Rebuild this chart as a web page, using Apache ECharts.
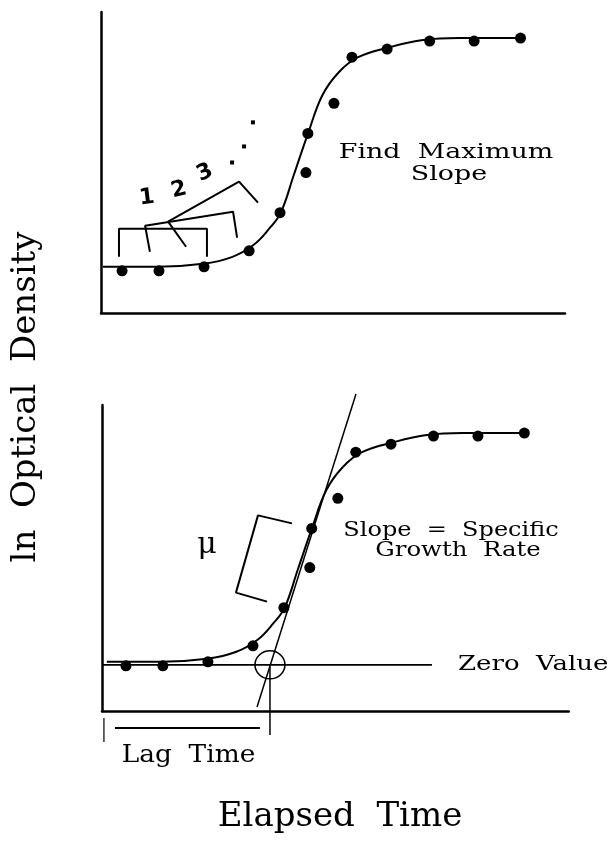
<!DOCTYPE html>
<html>
<head>
<meta charset="utf-8">
<script src="https://cdn.jsdelivr.net/npm/echarts@6/dist/echarts.min.js"></script>
<style>
  html, body { margin: 0; padding: 0; background: #fff; }
  #chart { width: 609px; height: 841px; }
</style>
</head>
<body>
<div id="chart"></div>
<script>
// Sampled measurements: elapsed time (h) and ln optical density
const sampleTime = [1.09, 3.0, 5.33, 7.66, 9.26, 10.6, 10.7, 12.05, 12.98, 14.8, 17.0, 19.3, 21.7];
const sampleLnOD = [0.42, 0.42, 0.46, 0.62, 1.0, 1.40, 1.79, 2.09, 2.55, 2.63, 2.71, 2.71, 2.74];

// Fitted growth curve
const curveTime = [0.10, 2.90, 5.28, 6.80, 7.90, 8.70, 9.30, 9.98, 10.71, 11.45, 12.30, 13.30, 14.95, 16.66, 18.50, 21.73];
const curveLnOD = [0.46, 0.46, 0.49, 0.56, 0.68, 0.84, 1.00, 1.38, 1.79, 2.17, 2.40, 2.55, 2.65, 2.72, 2.74, 2.74];

// Sliding windows used to search for the steepest slope (top panel)
const windowA = [[0.93, 0.56], [0.93, 0.84], [5.48, 0.84], [5.48, 0.56]];
const windowB = [[2.53, 0.61], [2.28, 0.87], [6.83, 1.01], [7.04, 0.75]];
const windowC = [[4.40, 0.66], [3.47, 0.91], [7.14, 1.31], [8.12, 1.10]];
const ellipsisDots = [[6.78, 1.50], [7.40, 1.66], [7.86, 1.90]];

// Lag-time construction (bottom panel)
const zeroLevel = 0.43;
const zeroLineStart = -0.10;
const zeroLineEnd = 16.92;
const tangentLine = [[7.87, 0.01], [12.99, 3.13]];
const lagTime = 8.54;
const lagDrop = -0.27;
const originTick = [[-0.05, -0.10], [-0.05, -0.34]];
const lagBar = [[0.52, -0.20], [8.02, -0.20]];
const muBracket = [[9.68, 1.84], [7.92, 1.92], [6.78, 1.15], [8.39, 1.06]];

const pairs = (xs, ys) => xs.map((x, i) => [x, ys[i]]);
const samples = pairs(sampleTime, sampleLnOD);
const curve = pairs(curveTime, curveLnOD);

const serifFont = '"DejaVu Serif", serif';
const ink = '#000';

function axis(min, max, pos) {
  return {
    type: 'value', min: min, max: max, gridIndex: pos,
    axisLine: { show: true, onZero: false, lineStyle: { color: ink, width: 2.5 } },
    axisTick: { show: false }, axisLabel: { show: false }, splitLine: { show: false }
  };
}

function path(data, g, width) {
  return {
    type: 'line', xAxisIndex: g, yAxisIndex: g, data: data, symbol: 'none',
    clip: false, silent: true,
    lineStyle: { color: ink, width: width || 2 }, z: 3
  };
}

function growthCurve(g) {
  return {
    type: 'line', xAxisIndex: g, yAxisIndex: g, data: curve, symbol: 'none',
    smooth: 0.4, silent: true, lineStyle: { color: ink, width: 2 }, z: 2
  };
}

function dots(g, data, shape, size) {
  return {
    type: 'scatter', xAxisIndex: g, yAxisIndex: g, data: data, silent: true,
    symbol: shape, symbolSize: size, itemStyle: { color: ink, opacity: 1 }, z: 4
  };
}

function label(text, x, y, size, opts) {
  opts = opts || {};
  return {
    type: 'text', x: x, y: y,
    rotation: opts.rotation || 0,
    scaleX: opts.scaleX || 1,
    style: {
      text: text, x: 0, y: 0,
      font: (opts.weight || 'normal') + ' ' + size + 'px ' + (opts.family || serifFont),
      fill: ink,
      align: opts.align || 'center', verticalAlign: 'middle',
      textAlign: opts.align || 'center', textVerticalAlign: 'middle'
    },
    z: 10
  };
}

const chart = echarts.init(document.getElementById('chart'), null, { renderer: 'canvas' });

chart.setOption({
  animation: false,
  backgroundColor: '#fff',
  grid: [
    { left: 101, top: 12, width: 464, height: 301 },
    { left: 102, top: 405, width: 466.8, height: 306 }
  ],
  xAxis: [axis(0, 24, 0), axis(-0.15, 24, 1)],
  yAxis: [axis(0, 3, 0), axis(-0.03, 3.02, 1)],
  series: [
    // top panel
    growthCurve(0),
    dots(0, samples, 'circle', 11),
    path(windowA, 0), path(windowB, 0), path(windowC, 0),
    dots(0, ellipsisDots, 'rect', 4),
    // bottom panel
    growthCurve(1),
    dots(1, samples, 'circle', 11),
    path([[zeroLineStart, zeroLevel], [zeroLineEnd, zeroLevel]], 1, 1.8),
    path(tangentLine, 1, 1.5),
    path([[lagTime, zeroLevel - 0.02], [lagTime, lagDrop]], 1, 1.5),
    path(originTick, 1, 1.2),
    path(lagBar, 1, 2),
    path(muBracket, 1, 2),
    {
      type: 'scatter', xAxisIndex: 1, yAxisIndex: 1, data: [[lagTime, zeroLevel]],
      symbol: 'circle', symbolSize: [30, 28], silent: true,
      itemStyle: { color: 'rgba(0,0,0,0)', borderColor: ink, borderWidth: 1.5, opacity: 1 }, z: 5
    }
  ],
  graphic: [
    label('Find  Maximum', 446, 152.5, 21, { scaleX: 1.28 }),
    label('Slope', 449, 174.5, 21, { scaleX: 1.28 }),
    label('1', 147, 198, 22, { weight: 'bold', family: '"DejaVu Sans", sans-serif', rotation: 0.12 }),
    label('2', 179, 190, 22, { weight: 'bold', family: '"DejaVu Sans", sans-serif', rotation: 0.25 }),
    label('3', 205, 173, 22, { weight: 'bold', family: '"DejaVu Sans", sans-serif', rotation: 0.42 }),
    label('μ', 207, 545, 30),
    label('Slope  =  Specific', 451, 530.5, 20, { scaleX: 1.2 }),
    label('Growth  Rate', 458, 550.5, 20, { scaleX: 1.22 }),
    label('Zero  Value', 458, 664.5, 20, { scaleX: 1.3, align: 'left' }),
    label('Lag  Time', 188.5, 756, 24, { scaleX: 1.1 }),
    label('Elapsed  Time', 340, 817.5, 34),
    label('ln  Optical  Density', 26, 397, 34, { rotation: Math.PI / 2 })
  ]
});
</script>
</body>
</html>
